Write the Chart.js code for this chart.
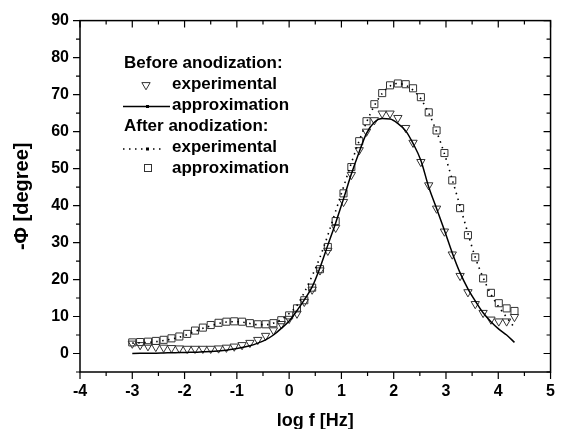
<!DOCTYPE html>
<html>
<head>
<meta charset="utf-8">
<script src="https://cdn.jsdelivr.net/npm/chart.js@4.4.1/dist/chart.umd.min.js"></script>
<style>
  html, body { margin: 0; padding: 0; background: #fff; }
  #wrap { width: 565px; height: 429px; position: relative; }
</style>
</head>
<body>
<div id="wrap"><canvas id="phase"></canvas></div>
<script>
// log f [Hz] of the measured points
const logF = [-3.00, -2.85, -2.70, -2.55, -2.40, -2.25, -2.10, -1.95, -1.80, -1.65,
              -1.50, -1.35, -1.20, -1.05, -0.90, -0.75, -0.60, -0.45, -0.30, -0.15,
               0.00,  0.15,  0.29,  0.44,  0.59,  0.74,  0.89,  1.04,  1.19,  1.34,
               1.48,  1.63,  1.78,  1.93,  2.08,  2.23,  2.37,  2.52,  2.67,  2.82,
               2.97,  3.12,  3.27,  3.42,  3.56,  3.71,  3.86,  4.01,  4.16,  4.31];

// before anodization: triangles + solid line
const beforeExp = [2.7, 2.3, 2.0, 1.8, 1.6, 1.5, 1.4, 1.3, 1.3, 1.3,
                   1.3, 1.4, 1.6, 1.9, 2.3, 2.9, 3.7, 4.8, 6.3, 8.0,
                   9.4, 10.8, 14.0, 17.3, 22.5, 27.8, 34.0, 41.0, 48.3, 55.0,
                   60.0, 63.1, 64.9, 64.9, 63.7, 61.0, 57.0, 51.8, 45.5, 39.2,
                   33.0, 26.8, 21.0, 16.6, 13.4, 11.0, 9.2, 8.7, 8.7, 9.9];
const beforeFit = [0.0, 0.05, 0.1, 0.1, 0.15, 0.2, 0.25, 0.3, 0.35, 0.45,
                   0.55, 0.7, 0.9, 1.2, 1.6, 2.1, 2.8, 3.7, 5.0, 6.8,
                   8.8, 11.6, 14.5, 18.0, 23.2, 29.3, 35.3, 41.8, 48.5, 54.5,
                   59.5, 62.5, 63.5, 63.4, 62.2, 60.2, 56.8, 52.2, 45.0, 39.2,
                   33.3, 27.2, 21.8, 17.5, 14.2, 11.0, 8.6, 6.6, 5.0, 3.0];

// after anodization: dotted line + squares
const afterDotted = [2.8, 2.9, 3.0, 3.2, 3.5, 3.9, 4.4, 5.1, 6.0, 6.8,
                     7.5, 8.1, 8.5, 8.6, 8.5, 8.1, 7.8, 7.8, 8.2, 9.2,
                     10.8, 13.0, 16.5, 21.0, 26.0, 32.0, 38.5, 45.0, 51.5, 57.5,
                     62.5, 67.0, 70.3, 72.3, 73.0, 72.5, 71.2, 68.8, 65.0, 60.0,
                     54.0, 47.0, 39.8, 32.5, 26.0, 20.5, 16.0, 12.6, 9.8, 7.0];
const afterSquares = [3.0, 3.1, 3.2, 3.4, 3.7, 4.1, 4.6, 5.3, 6.2, 7.0,
                      7.7, 8.3, 8.6, 8.7, 8.6, 8.2, 7.9, 7.9, 8.2, 9.0,
                      10.3, 12.2, 14.4, 17.8, 22.8, 28.8, 35.8, 43.3, 50.4, 57.4,
                      62.8, 67.4, 70.4, 72.5, 73.0, 72.8, 71.7, 69.3, 65.2, 60.3,
                      54.2, 46.8, 39.3, 32.0, 26.0, 20.3, 16.4, 13.6, 12.2, 11.5];

const xMin = -4, xMax = 5;
const yMin = -5, yMax = 90;

const FONT = '"Liberation Sans", Arial, sans-serif';

function pts(values) {
    return logF.map((x, i) => ({ x: x, y: values[i] }));
}

// box frame, ticks on all sides, legend block
const framePlugin = {
    id: 'frame',
    afterDraw(chart) {
        const { ctx, chartArea: a, scales: { x, y } } = chart;
        ctx.save();
        ctx.strokeStyle = '#000';
        ctx.lineWidth = 1.5;
        ctx.strokeRect(a.left, a.top, a.right - a.left, a.bottom - a.top);

        ctx.lineWidth = 1.2;
        ctx.beginPath();
        for (let v = xMin; v <= xMax; v += 0.5) {
            const px = x.getPixelForValue(v);
            const len = Number.isInteger(v) ? 7 : 4;
            ctx.moveTo(px, a.bottom); ctx.lineTo(px, a.bottom + len);
            ctx.moveTo(px, a.top); ctx.lineTo(px, a.top + len);
        }
        for (let v = yMin; v <= yMax; v += 5) {
            const py = y.getPixelForValue(v);
            const len = v % 10 === 0 ? 7 : 4;
            ctx.moveTo(a.left, py); ctx.lineTo(a.left - len, py);
            ctx.moveTo(a.right, py); ctx.lineTo(a.right - len, py);
        }
        ctx.stroke();

        // legend
        ctx.fillStyle = '#000';
        ctx.font = 'bold 17px ' + FONT;
        ctx.textBaseline = 'alphabetic';
        ctx.textAlign = 'left';
        ctx.fillText('Before anodization:', 124, 68);
        ctx.fillText('experimental', 172, 89);
        ctx.fillText('approximation', 172, 110);
        ctx.fillText('After anodization:', 124, 131);
        ctx.fillText('experimental', 172, 152);
        ctx.fillText('approximation', 172, 173);

        ctx.strokeStyle = '#333';
        ctx.lineWidth = 1;
        // triangle
        const tx = 146, ty = 85, r = 4.8;
        ctx.beginPath();
        ctx.moveTo(tx, ty + r);
        ctx.lineTo(tx - r * 0.866, ty - r / 2);
        ctx.lineTo(tx + r * 0.866, ty - r / 2);
        ctx.closePath();
        ctx.stroke();
        // solid line
        ctx.strokeStyle = '#000';
        ctx.lineWidth = 1.5;
        ctx.beginPath();
        ctx.moveTo(123, 106.5); ctx.lineTo(170, 106.5);
        ctx.stroke();
        ctx.fillRect(146, 105, 3, 3);
        // dotted line
        ctx.setLineDash([1.5, 4.5]);
        ctx.beginPath();
        ctx.moveTo(123, 149); ctx.lineTo(164, 149);
        ctx.stroke();
        ctx.setLineDash([]);
        ctx.fillRect(146, 147.5, 3, 3);
        // square
        ctx.strokeStyle = '#333';
        ctx.lineWidth = 1;
        ctx.strokeRect(144.5, 164.5, 7, 7);
        ctx.restore();
    }
};

new Chart(document.getElementById('phase'), {
    type: 'scatter',
    data: {
        datasets: [
            {
                label: 'Before anodization: approximation',
                data: pts(beforeFit),
                showLine: true,
                borderColor: '#000',
                borderWidth: 1.5,
                pointRadius: 0,
                cubicInterpolationMode: 'monotone'
            },
            {
                label: 'After anodization: experimental',
                data: pts(afterDotted),
                showLine: true,
                borderColor: '#000',
                borderWidth: 1.6,
                borderDash: [1.5, 4.5],
                pointRadius: 0,
                cubicInterpolationMode: 'monotone'
            },
            {
                label: 'Before anodization: experimental',
                data: pts(beforeExp),
                pointStyle: 'triangle',
                rotation: 180,
                pointRadius: 4.8,
                borderColor: '#333',
                borderWidth: 1,
                backgroundColor: 'rgba(0,0,0,0)'
            },
            {
                label: 'After anodization: approximation',
                data: pts(afterSquares),
                pointStyle: 'rect',
                pointRadius: 5,
                borderColor: '#333',
                borderWidth: 1,
                backgroundColor: 'rgba(0,0,0,0)'
            }
        ]
    },
    options: {
        responsive: true,
        maintainAspectRatio: false,
        animation: false,
        layout: { padding: { top: 20, right: 5, left: 0, bottom: 0 } },
        plugins: { legend: { display: false }, tooltip: { enabled: false } },
        scales: {
            x: {
                type: 'linear',
                min: xMin,
                max: xMax,
                ticks: { stepSize: 1, color: '#000', padding: 10, font: { family: FONT, size: 16, weight: 'bold' } },
                grid: { display: false, drawTicks: false },
                border: { display: false },
                title: { display: true, text: 'log f [Hz]', color: '#000', padding: { top: 0, bottom: -3 },
                         font: { family: FONT, size: 18, weight: 'bold' } },
                afterFit(s) { s.height = 57; }
            },
            y: {
                min: yMin,
                max: yMax,
                ticks: { stepSize: 10, color: '#000', padding: 11,
                         font: { family: FONT, size: 16, weight: 'bold' },
                         callback: v => (v % 10 === 0 ? v : '') },
                grid: { display: false, drawTicks: false },
                border: { display: false },
                title: { display: true, text: '-Φ [degree]', color: '#000', padding: { top: 10, bottom: 0 },
                         font: { family: FONT, size: 20, weight: 'bold' } },
                afterFit(s) { s.width = 80; }
            }
        }
    },
    plugins: [framePlugin]
});
</script>
</body>
</html>
